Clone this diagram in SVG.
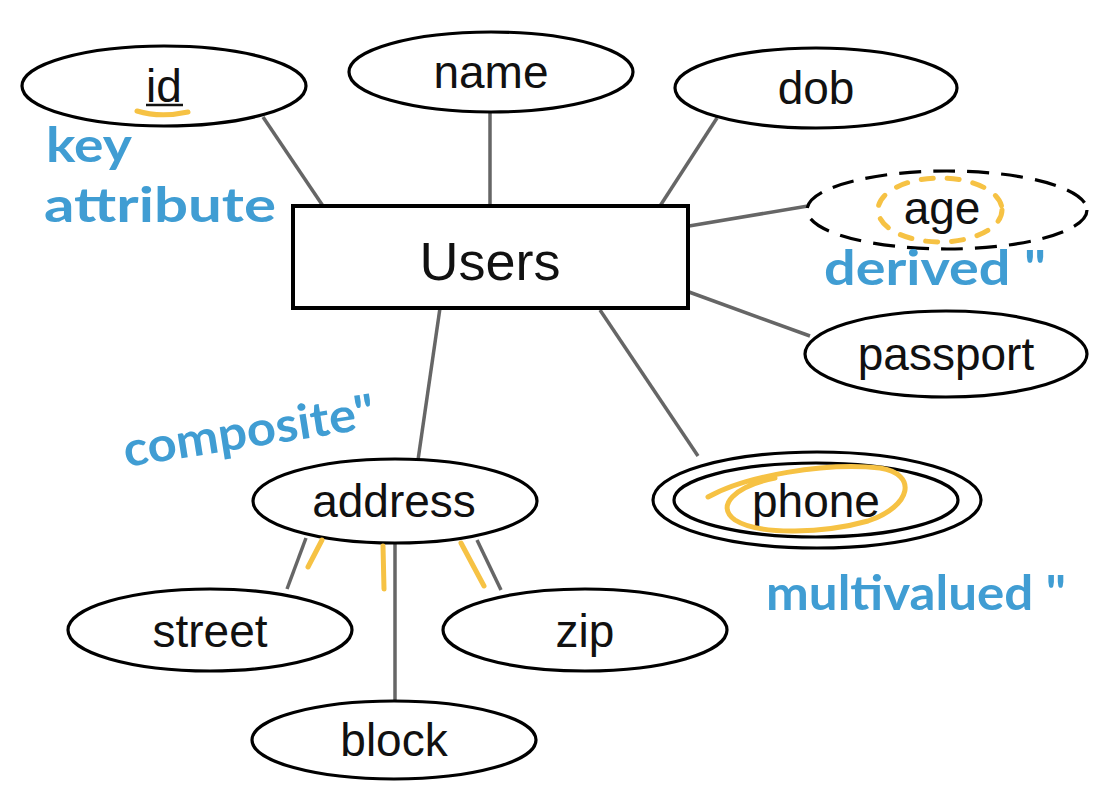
<svg xmlns="http://www.w3.org/2000/svg" width="1108" height="804" viewBox="0 0 1108 804">
<style>
.ent{fill:#fff;stroke:#000;stroke-width:4}
.att{fill:#fff;stroke:#000;stroke-width:3.2}
.dash{stroke-dasharray:22 12}
.lbl{font-family:"Liberation Sans",Arial,sans-serif;font-size:46px;fill:#111;text-anchor:middle}
.big{font-size:54px}
.conn line{stroke:#666;stroke-width:3.5}
.hl{fill:none;stroke:#f6c244;stroke-width:5;stroke-linecap:round;stroke-linejoin:round}
.note{font-family:Lato,"Open Sans",sans-serif;font-weight:700;font-size:48px;fill:#409dd3}
</style>
<rect width="1108" height="804" fill="#fff"/>
<g id="connectors" class="conn">
<line x1="263" y1="117" x2="323" y2="206"/>
<line x1="490" y1="112" x2="490" y2="206"/>
<line x1="717" y1="118" x2="660" y2="206"/>
<line x1="689" y1="226" x2="808" y2="206"/>
<line x1="689" y1="292" x2="810" y2="336"/>
<line x1="440" y1="308" x2="418" y2="460"/>
<line x1="600" y1="310" x2="698" y2="456"/>
<line x1="306" y1="538" x2="287" y2="589"/>
<line x1="395" y1="543" x2="395" y2="700"/>
<line x1="477" y1="540" x2="501" y2="590"/>
</g>
<g id="users">
<rect class="ent" x="293" y="206" width="395" height="102"/>
<text class="lbl big" x="490" y="280">Users</text>
</g>
<g id="id">
<ellipse class="att" cx="164" cy="86" rx="142" ry="40"/>
<text class="lbl" x="164" y="102">id</text>
<line x1="146" y1="105" x2="183" y2="105" stroke="#111" stroke-width="2.5"/>
</g>
<g id="name">
<ellipse class="att" cx="491" cy="72" rx="142" ry="40"/>
<text class="lbl" x="491" y="88">name</text>
</g>
<g id="dob">
<ellipse class="att" cx="816" cy="88" rx="141" ry="40"/>
<text class="lbl" x="816" y="104">dob</text>
</g>
<g id="age">
<ellipse class="att dash" cx="947" cy="210" rx="140" ry="39"/>
<text class="lbl" x="942" y="224">age</text>
</g>
<g id="passport">
<ellipse class="att" cx="946" cy="354" rx="141" ry="43"/>
<text class="lbl" x="946" y="370">passport</text>
</g>
<g id="address">
<ellipse class="att" cx="395" cy="501" rx="142" ry="42"/>
<text class="lbl" x="394" y="517">address</text>
</g>
<g id="phone">
<ellipse class="att" cx="817" cy="500" rx="164" ry="48"/>
<ellipse class="att" cx="816" cy="500" rx="142" ry="37" stroke-width="4"/>
<text class="lbl" x="816" y="517">phone</text>
</g>
<g id="street">
<ellipse class="att" cx="210" cy="630" rx="142" ry="41"/>
<text class="lbl" x="210" y="647">street</text>
</g>
<g id="zip">
<ellipse class="att" cx="585" cy="630" rx="142" ry="41"/>
<text class="lbl" x="585" y="647">zip</text>
</g>
<g id="block">
<ellipse class="att" cx="394" cy="740" rx="142" ry="39"/>
<text class="lbl" x="394" y="756">block</text>
</g>
<g id="highlights">
<path class="hl" d="M137,111 Q160,118 188,112"/>
<ellipse class="hl" cx="940" cy="210" rx="62" ry="32" stroke-dasharray="12 14"/>
<path class="hl" d="M708,497 C745,476 825,462 880,468 C918,474 912,506 868,521 C825,533 760,536 735,520 C715,506 735,486 775,478"/>
<path class="hl" d="M322,540 L308,567"/>
<path class="hl" d="M383,546 L384,589"/>
<path class="hl" d="M461,543 L484,586"/>
</g>
<g id="annotations">
<text class="note" x="46" y="162" textLength="86" lengthAdjust="spacingAndGlyphs">key</text>
<text class="note" x="44" y="222" textLength="232" lengthAdjust="spacingAndGlyphs">attribute</text>
<text class="note" x="824" y="285" textLength="222" lengthAdjust="spacingAndGlyphs">derived "</text>
<text class="note" x="126" y="467" textLength="254" lengthAdjust="spacingAndGlyphs" transform="rotate(-9 126 467)">composite"</text>
<text class="note" x="766" y="610" textLength="300" lengthAdjust="spacingAndGlyphs">multivalued "</text>
</g>
</svg>
